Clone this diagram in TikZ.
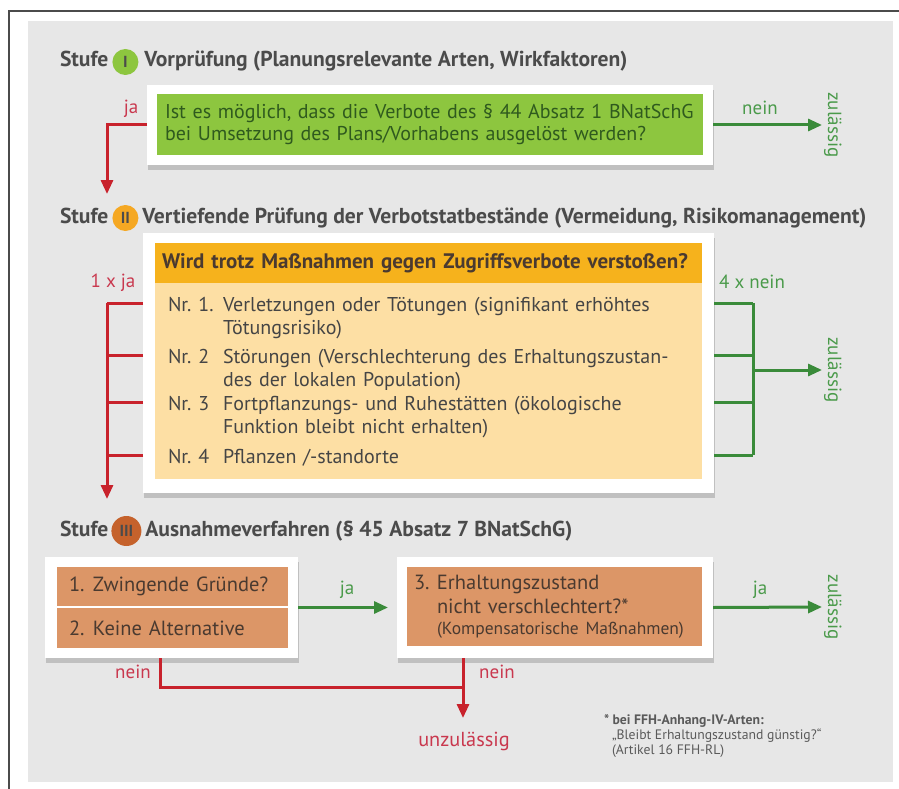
\documentclass[tikz,border=0pt]{standalone}
\usepackage{fontspec}
\setmainfont{PT Sans}
\usetikzlibrary{positioning,arrows.meta,shadows}

\definecolor{bggrey}{HTML}{E7E7E7}
\definecolor{headgrey}{HTML}{4B4B4B}
\definecolor{txtgrey}{HTML}{454545}
\definecolor{limegrn}{HTML}{8DC63F}
\definecolor{grntxt}{HTML}{2F5A1E}
\definecolor{arrgrn}{HTML}{3A8B3A}
\definecolor{lblgrn}{HTML}{4A9A4A}
\definecolor{arrred}{HTML}{C8222C}
\definecolor{lblred}{HTML}{C9384E}
\definecolor{ambhead}{HTML}{F6B21C}
\definecolor{ambbody}{HTML}{FDDFA4}
\definecolor{ambcirc}{HTML}{F5A823}
\definecolor{salmon}{HTML}{DC9667}
\definecolor{rustcirc}{HTML}{C5622C}
\definecolor{salmtxt}{HTML}{4A3A30}
\definecolor{fngrey}{HTML}{5A5A5A}

\begin{document}
\begin{tikzpicture}[x=1pt,y=-1pt,
  every node/.style={inner sep=0pt, outer sep=0pt},
  frame/.style={fill=white, drop shadow={shadow xshift=1pt, shadow yshift=-5pt, fill=black!60, opacity=0.3}},
  stufe/.style={font=\bfseries\fontsize{21.6}{24}\selectfont, text=headgrey, text height=15pt, text depth=5pt},
  nummer/.style={circle, minimum size=26pt, font=\bfseries\fontsize{16}{18}\selectfont, text=headgrey},
  body/.style={font=\fontsize{20}{23}\selectfont, text=txtgrey},
  nrlbl/.style={body, text height=16pt, text depth=0pt, anchor=base west},
  itemtxt/.style={body, anchor=north west, text width=475pt, align=left},
  lbl/.style={font=\fontsize{19}{22}\selectfont},
  redlbl/.style={lbl, text=lblred},
  grnlbl/.style={lbl, text=lblgrn},
  zul/.style={font=\fontsize{19}{22}\selectfont, text=lblgrn, rotate=-90, anchor=south, inner sep=2pt},
  redln/.style={draw=arrred, line width=3pt},
  redarr/.style={redln, -{Triangle[length=14pt,width=12pt]}},
  grnln/.style={draw=arrgrn, line width=3pt},
  grnarr/.style={grnln, -{Triangle[length=14pt,width=12pt]}},
  salbox/.style={fill=salmon, text=salmtxt, font=\fontsize{20.5}{24}\selectfont, align=left}]
\useasboundingbox (0,0) rectangle (899,789);
\fill[white] (0,0) rectangle (899,789);
\fill[bggrey] (28,21) rectangle (893,782);
\draw[line width=1.5pt, headgrey] (9,789) -- (9,11) -- (899,11);

% Stufe I
\node[stufe, anchor=west] (st1) at (60,62) {Stufe};
\node[nummer, fill=limegrn, right=4pt of st1] (n1) {I};
\node[stufe, right=6pt of n1] (h1) {Vorprüfung (Planungsrelevante Arten, Wirkfaktoren)};
\node[frame, minimum width=566, minimum height=80] (f1) at (430,125) {};
\node[fill=limegrn, minimum width=546, minimum height=61, text width=530, align=left, text=grntxt, font=\fontsize{20}{22}\selectfont] (q1) at (430,124.5)
  {Ist es möglich, dass die Verbote des § 44 Absatz 1 BNatSchG\\bei Umsetzung des Plans/Vorhabens ausgelöst werden?};
\node[redlbl] (ja1) at (131,109) {ja};
\node[grnlbl] (nein1) at (760,108) {nein};
\node[zul] (z1) at (822,125) {zulässig};
\coordinate (c1) at (107,194);
\draw[redarr] (f1.west) -| (c1);
\draw[grnarr] (f1.east) -- (z1.south);

% Stufe II
\node[stufe, anchor=west] (st2) at (60,218) {Stufe};
\node[nummer, fill=ambcirc, right=4pt of st2] (n2) {II};
\node[stufe, right=4pt of n2] (h2) {Vertiefende Prüfung der Verbotstatbestände (Vermeidung, Risikomanagement)};
\node[frame, minimum width=571, minimum height=260] (f2) at (428.5,363) {};
\node[fill=ambhead, minimum width=547, minimum height=40, text width=533, align=left, text=salmtxt, font=\bfseries\fontsize{21}{22}\selectfont] (q2) at (428.5,263)
  {Wird trotz Maßnahmen gegen Zugriffsverbote verstoßen?};
\node[fill=ambbody, minimum width=547, minimum height=196, anchor=north] (b2) at (q2.south) {};
\node[nrlbl] (nr1) at (168,311) {Nr. 1.};
\node[itemtxt] (t1) at ([xshift=55pt]nr1.north west) {\strut Verletzungen oder Tötungen (signifikant erhöhtes\\Tötungsrisiko)};
\node[nrlbl] (nr2) at (168,363) {Nr. 2};
\node[itemtxt] (t2) at ([xshift=55pt]nr2.north west) {\strut Störungen (Verschlechterung des Erhaltungszustan-\\des der lokalen Population)};
\node[nrlbl] (nr3) at (168,410) {Nr. 3};
\node[itemtxt] (t3) at ([xshift=55pt]nr3.north west) {\strut Fortpflanzungs- und Ruhestätten (ökologische\\Funktion bleibt nicht erhalten)};
\node[nrlbl] (nr4) at (168,463) {Nr. 4};
\node[itemtxt] (t4) at ([xshift=55pt]nr4.north west) {\strut Pflanzen /-standorte};
\node[redlbl] (ja2) at (113,283) {1 x ja};
\node[grnlbl] (nein2) at (752,282) {4 x nein};
\node[zul] (z2) at (822,370) {zulässig};
\coordinate (rv) at (107,0);
\coordinate (gv) at (753,0);
\coordinate (c2) at (107,499);
\foreach \n in {nr1,nr2,nr3,nr4} {
  \draw[redln] (f2.west |- \n.west) -- (rv |- \n.west);
  \draw[grnln] (f2.east |- \n.west) -- (gv |- \n.west);
}
\draw[redarr] (rv |- nr1.west) -- (c2);
\draw[grnln] (gv |- nr1.west) -- (gv |- nr4.west);
\draw[grnarr] (gv |- z2.south) -- (z2.south);

% Stufe III
\node[stufe, anchor=west] (st3) at (60,531) {Stufe};
\node[nummer, fill=rustcirc, minimum size=30pt, right=3pt of st3] (n3) {III};
\node[stufe, right=4pt of n3] (h3) {Ausnahmeverfahren (§ 45 Absatz 7 BNatSchG)};
\node[frame, minimum width=253, minimum height=101] (f3) at (171.5,607.5) {};
\node[salbox, minimum width=231, minimum height=39, text width=207] (g1) at (172.5,586.5) {\makebox[24pt][l]{1.}Zwingende Gründe?};
\node[salbox, minimum width=231, minimum height=40, text width=207] (g2) at (172.5,628) {\makebox[24pt][l]{2.}Keine Alternative};
\node[frame, minimum width=316, minimum height=101] (f4) at (555,607.5) {};
\node[salbox, minimum width=295, minimum height=79, text width=281] (g3) at (554.5,606.5)
  {\makebox[23pt][l]{3.}Erhaltungszustand\\\hspace*{23pt}nicht verschlechtert?*\\[-3pt]\hspace*{23pt}{\fontsize{17.5}{20}\selectfont(Kompensatorische Maßnahmen)}};
\node[grnlbl] (ja3) at (347,590) {ja};
\node[grnlbl] (ja4) at (760,590) {ja};
\node[zul] (z3) at (822,607) {zulässig};
\node[redlbl] (nein3) at (133,672) {nein};
\node[redlbl] (nein4) at (497,672) {nein};
\node[font=\fontsize{20.3}{22}\selectfont, text=lblred, anchor=north] (u1) at (464,732) {unzulässig};
\coordinate (n3r) at (160,687);
\coordinate (r3) at (463,687);
\draw[grnarr, shorten >=9pt] (f3.east) -- (f4.west);
\draw[grnarr] (f4.east) -- (z3.south);
\draw[redln] (n3r |- f3.south) -- (n3r) -- (r3);
\draw[redarr, shorten >=14pt] (r3 |- f4.south) -- (u1.north -| r3);

\node[font=\fontsize{13.7}{15}\selectfont, text=fngrey, align=left, anchor=west] (fn) at (604,736)
  {\textbf{* bei FFH-Anhang-IV-Arten:}\\\hspace*{8pt}„Bleibt Erhaltungszustand günstig?“\\\hspace*{8pt}(Artikel 16 FFH-RL)};
\end{tikzpicture}
\end{document}
